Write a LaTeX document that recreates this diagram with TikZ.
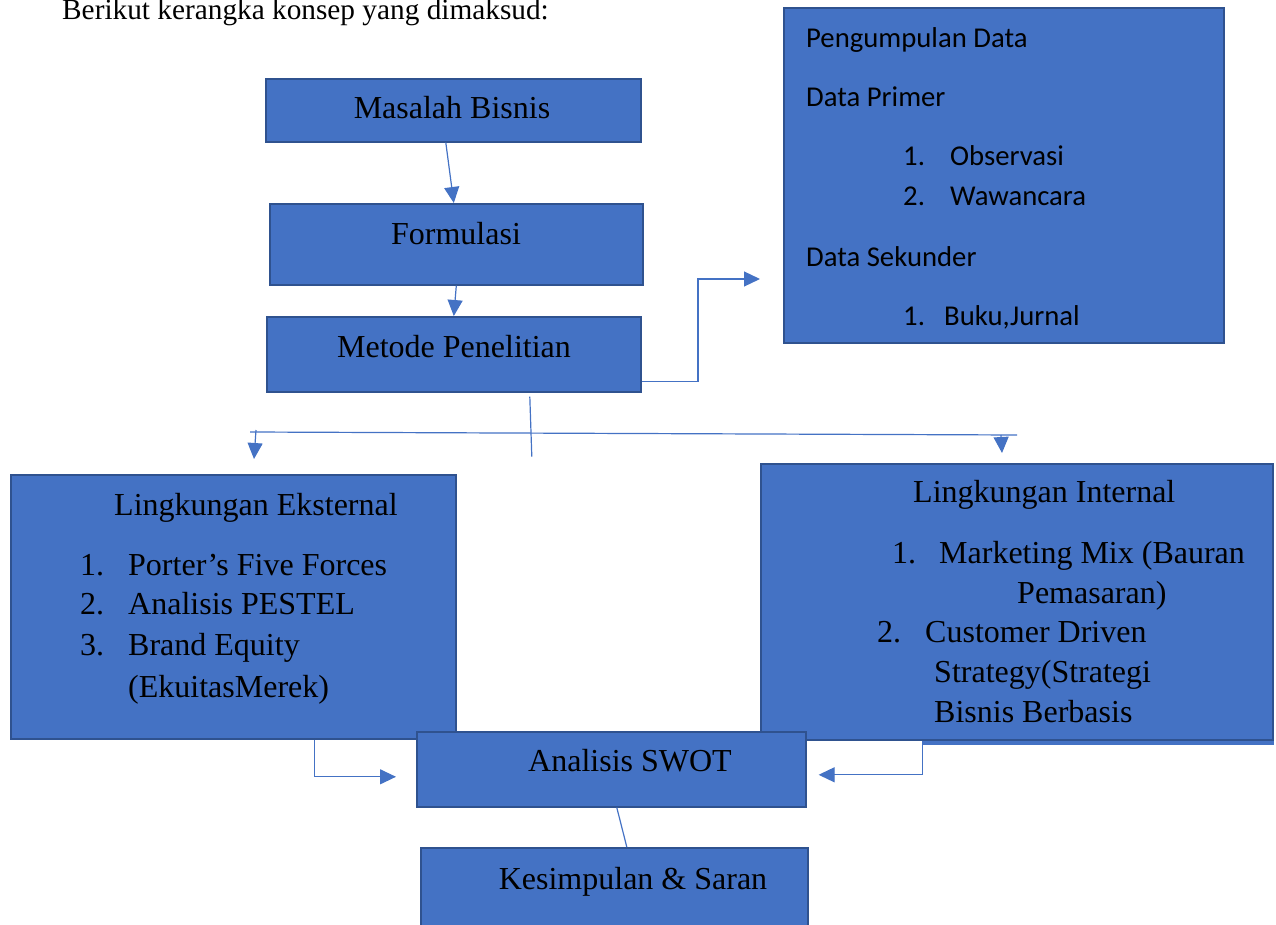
\documentclass[tikz,border=0pt]{standalone}
\usepackage{fontspec}
\setmainfont{Liberation Serif}
\newfontfamily\calibri{Carlito}
\usetikzlibrary{arrows.meta}
\definecolor{boxblue}{HTML}{4472C4}
\definecolor{boxedge}{HTML}{2F528F}

\begin{document}
\begin{tikzpicture}[x=1pt, y=-1pt,
	every node/.style={font=\fontsize{32}{38}\selectfont, inner sep=0pt},
	box/.style={draw=boxedge, line width=1.6pt, fill=boxblue, anchor=north west},
	line/.style={anchor=base west},
	side/.style={anchor=base west, font=\calibri\fontsize{28.7}{34}\selectfont},
	link/.style={boxblue, line width=1.2pt},
	arr/.style={link, -{Triangle[length=16pt, width=15pt]}}]
	\useasboundingbox (0,0) rectangle (1276,925);

	\node[anchor=base west, font=\fontsize{29.3}{35}\selectfont] (intro) at (62,20) {Berikut kerangka konsep yang dimaksud:};

	% main column
	\node[box, minimum width=375pt, minimum height=63pt] (masalah) at (265,78) {};
	\node[anchor=base] (masalah-t) at (452,119) {Masalah Bisnis};
	\node[box, minimum width=373pt, minimum height=81pt] (formulasi) at (269,203) {};
	\node[anchor=base] (formulasi-t) at (456,244) {Formulasi};
	\node[box, minimum width=374pt, minimum height=75pt] (metode) at (266,316) {};
	\node[anchor=base] (metode-t) at (454,357) {Metode Penelitian};

	% data collection
	\node[box, minimum width=440pt, minimum height=335pt] (data) at (783,7) {};
	\node[side] (data-t) at (806,48) {Pengumpulan Data};
	\node[side] (primer) at (806,107) {Data Primer};
	\node[side] (primer-n1) at (903,166) {1.};
	\node[side] (primer-1) at (950,166) {Observasi};
	\node[side] (primer-n2) at (903,206) {2.};
	\node[side] (primer-2) at (950,206) {Wawancara};
	\node[side] (sekunder) at (806,266) {Data Sekunder};
	\node[side] (sekunder-n1) at (903,325) {1.};
	\node[side] (sekunder-1) at (944,325) {Buku,Jurnal};

	% environments
	\node[box, minimum width=445pt, minimum height=264pt] (eksternal) at (10,474) {};
	\node[line] (eksternal-t) at (114,515) {Lingkungan Eksternal};
	\foreach \n/\y/\t in {1/575/Porter's Five Forces, 2/614/Analisis PESTEL, 3/655/Brand Equity} {
		\node[line] (eks-n\n) at (80,\y) {\n.};
		\node[line] (eks-\n) at (128,\y) {\t};
	}
	\node[line] (eks-4) at (128,697) {(EkuitasMerek)};

	\fill[boxblue] (922,736) rectangle (1274,745);
	\node[box, minimum width=512pt, minimum height=276pt] (internal) at (760,463) {};
	\node[line] (internal-t) at (913,502) {Lingkungan Internal};
	\node[line] (int-n1) at (892,563) {1.};
	\node[line] (int-1) at (939,563) {Marketing Mix (Bauran};
	\node[line] (int-1b) at (1017,603) {Pemasaran)};
	\node[line] (int-n2) at (877,642) {2.};
	\node[line] (int-2) at (925,642) {Customer Driven};
	\node[line] (int-2b) at (934,682) {Strategy(Strategi};
	\node[line] (int-2c) at (934,722) {Bisnis Berbasis};

	% result
	\node[box, minimum width=389pt, minimum height=75pt] (swot) at (416,731) {};
	\node[anchor=base] (swot-t) at (630,771) {Analisis SWOT};
	\node[box, minimum width=387pt, minimum height=100pt] (kesimpulan) at (420,847) {};
	\node[anchor=base] (kesimpulan-t) at (633,889) {Kesimpulan \& Saran};

	\coordinate (busL) at (250,432);
	\coordinate (busR) at (1017,435);
	\coordinate (extL) at (254,459);
	\coordinate (extR) at (1002,453);
	\coordinate (datain) at (760,279);

	\draw[arr] ([xshift=-7.5pt]masalah.south) -- ([xshift=-2.5pt]formulasi.north);
	\draw[arr] (formulasi.south) -- (metode.north);
	\draw[arr] ([yshift=-27pt]metode.east) -| (698,279) -- (datain);
	\draw[link] ([xshift=76pt, yshift=-4pt]metode.south) -- ([xshift=78pt, yshift=-64pt]metode.south);
	\draw[link] (busL) -- (busR);
	\draw[arr] ([xshift=6pt, yshift=2pt]busL) -- (extL);
	\draw[arr] ([xshift=-16pt]busR) -- (extR);
	\draw[arr] ([xshift=81.5pt]eksternal.south) |- ([xshift=-20pt, yshift=-7.5pt]swot.west);
	\draw[arr] ([xshift=-94pt]internal.south) |- ([xshift=12pt, yshift=-5.5pt]swot.east);
	\draw[link] ([xshift=5.5pt]swot.south) -- ([xshift=12.5pt]kesimpulan.north);
\end{tikzpicture}
\end{document}
